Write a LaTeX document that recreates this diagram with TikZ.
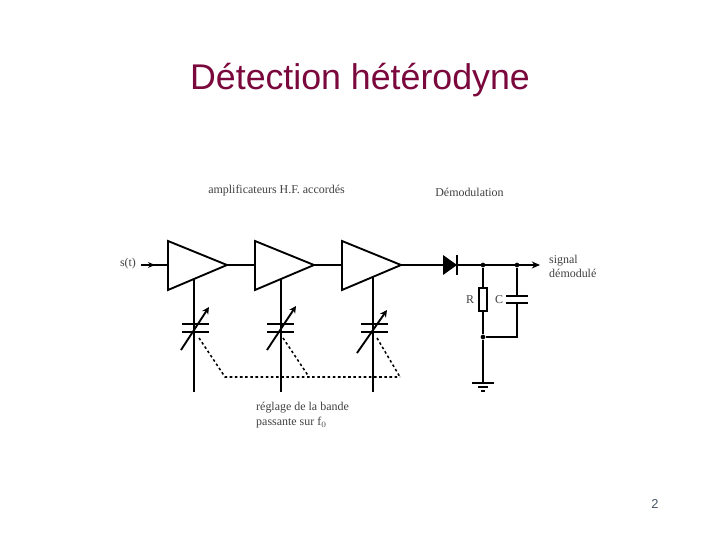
\documentclass[tikz,border=0pt]{standalone}
\usepackage{fontspec}
\setmainfont{Liberation Serif}
\newfontfamily\titlefont{Liberation Sans}
\usetikzlibrary{arrows.meta}
\definecolor{titlecol}{RGB}{122,8,60}
\definecolor{pagecol}{RGB}{70,85,105}
\tikzset{
    wire/.style={line width=1.6pt},
    plate/.style={line width=2.3pt},
    thinwire/.style={line width=1pt},
    tune/.style={line width=1.3pt, dash pattern=on 2.2pt off 2.2pt},
    lbl/.style={font=\fontsize{10.2}{11}\selectfont, text=black!75, inner sep=0pt},
    dot/.style={circle, fill=black, inner sep=0pt, minimum size=4pt}
}
\begin{document}
\begin{tikzpicture}[x=0.03cm, y=-0.03cm]
        \useasboundingbox (0,0) rectangle (720,540);
        \fill[white] (0,0) rectangle (720,540);

        \node[font=\titlefont\fontsize{30.5}{32}\selectfont, text=titlecol, inner sep=0pt, anchor=base] (title) at (360,90) {Détection hétérodyne};
        \node[font=\titlefont\fontsize{11}{12}\selectfont, text=pagecol, inner sep=0pt] (page) at (655,504) {2};

        \node[lbl] (lblamp) at (276.5,191) {amplificateurs H.F. accordés};
        \node[lbl] (lbldem) at (469.5,192) {Démodulation};
        \node[lbl] (lblin) at (128,264) {s(t)};
        \node[lbl, anchor=west] (lblsig) at (549,261) {signal};
        \node[lbl, anchor=west] (lbldemod) at (549,273) {démodulé};
        \node[lbl] (lblr) at (470,300) {R};
        \node[lbl] (lblc) at (499,300) {C};
        \node[lbl, anchor=west] (lblreg) at (256,408) {réglage de la bande};
        \node[lbl, anchor=west] (lblpass) at (256,423) {passante sur f$_0$};

        % amplifiers
        \coordinate (in) at (141,265);
        \coordinate (a1) at (168,265);
        \coordinate (t1) at (227,265);
        \coordinate (a2) at (255,265);
        \coordinate (t2) at (314,265);
        \coordinate (a3) at (342,265);
        \coordinate (t3) at (401,265);
        \draw[wire, fill=white] (168,241) -- (t1) -- (168,290) -- cycle;
        \draw[wire, fill=white] (255,241) -- (t2) -- (255,290) -- cycle;
        \draw[wire, fill=white] (342,241) -- (t3) -- (342,290) -- cycle;
        \draw[wire] (in) -- (a1);
        \draw[wire, -{Stealth[length=6pt,width=5pt]}] (in) -- (155,265);
        \draw[wire] (t1) -- (a2);
        \draw[wire] (t2) -- (a3);

        % tuning capacitors
        \coordinate (v1a) at (194,279);
        \coordinate (v1b) at (194,392);
        \coordinate (v2a) at (281,279);
        \coordinate (v2b) at (281,392);
        \coordinate (v3a) at (373,277);
        \coordinate (v3b) at (373,392);
        \draw[wire] (v1a) -- (v1b);
        \draw[wire] (v2a) -- (v2b);
        \draw[wire] (v3a) -- (v3b);
        \draw[plate] (182,324) -- (209,324);
        \draw[plate] (182,332) -- (209,332);
        \draw[plate] (267,324) -- (294,324);
        \draw[plate] (267,332) -- (294,332);
        \draw[plate] (361,324) -- (388,324);
        \draw[plate] (361,332) -- (388,332);
        \draw[wire, -{Stealth[length=6pt,width=6pt]}] (181,350) -- (209,307);
        \draw[wire, -{Stealth[length=6pt,width=6pt]}] (267,350) -- (296,306);
        \draw[wire, -{Stealth[length=6pt,width=6pt]}] (357,353) -- (387,310);

        % tuning link
        \coordinate (k1) at (225,377);
        \coordinate (k2) at (309,377);
        \coordinate (k3) at (400,377);
        \draw[tune] (199,338) -- (k1) -- (k3);
        \draw[tune] (283,338) -- (k2);
        \draw[tune] (377,338) -- (k3);

        % demodulator
        \node[dot] (j1) at (483,265) {};
        \node[dot] (j2) at (517,265) {};
        \node[dot] (j3) at (483,337) {};
        \coordinate (out) at (540,265);
        \coordinate (gnd) at (483,383);
        \draw[wire, -{Stealth[length=7pt,width=6pt]}] (t3) -- (out);
        \fill (443,255) -- (457,265) -- (443,275) -- cycle;
        \draw[plate] (457,255) -- (457,275);
        \draw[wire] (j1) -- (j3) -- (gnd);
        \draw[thinwire] (j2) -- (517,337) -- (j3);
        \draw[wire, fill=white] (479,288) rectangle (487,311);
        \fill[white] (506,297) rectangle (528,302);
        \draw[plate] (506,296) -- (528,296);
        \draw[plate] (506,303) -- (528,303);
        \draw[plate] (472,383) -- (494,383);
        \draw[wire] (478,387) -- (488,387);
        \draw[wire] (481,391) -- (485,391);
    \end{tikzpicture}
\end{document}
